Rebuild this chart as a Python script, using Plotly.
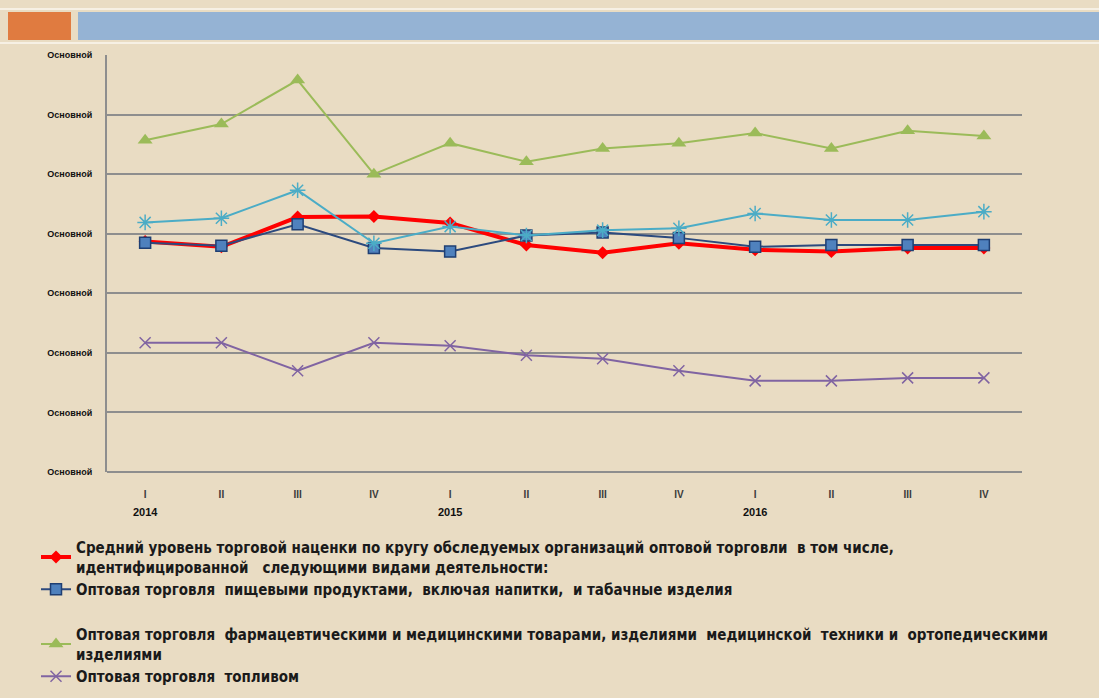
import plotly.graph_objects as go

quarters = ["I", "II", "III", "IV", "I", "II", "III", "IV", "I", "II", "III", "IV"]
year_labels = ["2014", "2015", "2016"]
year_pos = [0, 4, 8]
x_idx = list(range(12))

avg_markup = [3.87, 3.78, 4.28, 4.29, 4.18, 3.81, 3.68, 3.84, 3.73, 3.70, 3.76, 3.76]
food = [3.85, 3.80, 4.16, 3.76, 3.70, 3.97, 4.02, 3.93, 3.78, 3.81, 3.81, 3.81]
unnamed = [4.19, 4.26, 4.73, 3.84, 4.12, 3.97, 4.06, 4.09, 4.34, 4.23, 4.23, 4.37]
pharma = [5.57, 5.84, 6.58, 5.00, 5.52, 5.21, 5.43, 5.52, 5.69, 5.43, 5.73, 5.64]
fuel = [2.17, 2.17, 1.70, 2.17, 2.12, 1.96, 1.90, 1.70, 1.53, 1.53, 1.58, 1.58]

y_ticks = [0, 1, 2, 3, 4, 5, 6, 7]
y_tick_text = ["Основной"] * 8

names = [
    "Средний уровень торговой наценки по кругу обследуемых организаций оптовой торговли  в том числе,<br>идентифицированной   следующими видами деятельности:",
    "Оптовая торговля  пищевыми продуктами,  включая напитки,  и табачные изделия",
    "Оптовая торговля  фармацевтическими и медицинскими товарами, изделиями  медицинской  техники и  ортопедическими<br>изделиями",
    "Оптовая торговля  топливом",
]

BG = "#E9DCC3"
PX_L, PX_R, PX_T, PX_B = 107, 1022, 55, 472
W, H = 1099, 698


def px_x(px):
    return (px - PX_L) / (PX_R - PX_L)


def px_y(py):
    return (PX_B - py) / (PX_B - PX_T)


fig = go.Figure()
fig.add_trace(go.Scatter(x=x_idx, y=avg_markup, name=names[0], mode="lines+markers",
                         line=dict(color="#FF0000", width=4),
                         marker=dict(symbol="diamond", size=10, color="#FF0000")))
fig.add_trace(go.Scatter(x=x_idx, y=food, name=names[1], mode="lines+markers",
                         line=dict(color="#2C4A7E", width=2),
                         marker=dict(symbol="square", size=11, color="#4F81BD",
                                     line=dict(color="#1F3F73", width=1.5))))
fig.add_trace(go.Scatter(x=[None], y=[None], name=" ", mode="lines",
                         line=dict(color="rgba(0,0,0,0)", width=1), hoverinfo="skip"))
fig.add_trace(go.Scatter(x=x_idx, y=unnamed, name="", mode="lines+markers", showlegend=False,
                         line=dict(color="#4BACC6", width=2),
                         marker=dict(symbol="asterisk-open", size=13,
                                     line=dict(color="#4BACC6", width=1.5))))
fig.add_trace(go.Scatter(x=x_idx, y=pharma, name=names[2], mode="lines+markers",
                         line=dict(color="#9BBB59", width=2),
                         marker=dict(symbol="triangle-up", size=13, color="#9BBB59")))
fig.add_trace(go.Scatter(x=x_idx, y=fuel, name=names[3], mode="lines+markers",
                         line=dict(color="#8064A2", width=2),
                         marker=dict(symbol="x-thin-open", size=11,
                                     line=dict(color="#8064A2", width=1.5))))

fig.update_layout(
    width=W, height=H,
    paper_bgcolor=BG, plot_bgcolor=BG,
    margin=dict(l=PX_L, r=W - PX_R, t=PX_T, b=H - PX_B, autoexpand=False),
    font=dict(family="Liberation Sans, Arial, sans-serif", color="#222222"),
    xaxis=dict(range=[-0.5, 11.5], tickmode="array", tickvals=x_idx,
               ticktext=[f"<b>{q}</b>" for q in quarters],
               showgrid=False, zeroline=False, showline=False, ticks="",
               tickfont=dict(size=10, color="#3A3A3A"), ticklabelstandoff=15),
    yaxis=dict(range=[0, 7], tickmode="array", tickvals=y_ticks,
               ticktext=[f"<b>{t}</b>" for t in y_tick_text],
               showgrid=True, gridcolor="#8E8E8E", gridwidth=2,
               zeroline=False, showline=True, linecolor="#8E8E8E", linewidth=2,
               ticks="", tickfont=dict(size=9, color="#111111"), ticklabelstandoff=11),
    legend=dict(x=px_x(36), y=px_y(531), xanchor="left", yanchor="top",
                bgcolor="rgba(0,0,0,0)", tracegroupgap=0, itemwidth=30,
                font=dict(family="DejaVu Sans Condensed, Liberation Sans", size=15,
                          color="#1A1A1A", weight="bold")),
    showlegend=True,
)

for yl, xp in zip(year_labels, year_pos):
    fig.add_annotation(x=xp, xref="x", y=px_y(512), yref="paper", text=f"<b>{yl}</b>",
                       showarrow=False, xanchor="center", yanchor="middle",
                       font=dict(size=11, color="#111111"))

# bottom axis line
fig.add_shape(type="line", xref="paper", yref="paper", x0=0, x1=1, y0=0, y1=0,
              line=dict(color="#8E8E8E", width=2))

# header bars
fig.add_shape(type="rect", xref="paper", yref="paper", x0=px_x(8), x1=px_x(71),
              y0=px_y(40), y1=px_y(12), fillcolor="#E07B40", line=dict(width=0), layer="above")
fig.add_shape(type="rect", xref="paper", yref="paper", x0=px_x(78), x1=px_x(1099),
              y0=px_y(40), y1=px_y(12), fillcolor="#95B3D4", line=dict(width=0), layer="above")
fig.add_shape(type="line", xref="paper", yref="paper", x0=px_x(0), x1=px_x(1099),
              y0=px_y(9), y1=px_y(9), line=dict(color="#F6F0E4", width=2), layer="above")
fig.add_shape(type="line", xref="paper", yref="paper", x0=px_x(0), x1=px_x(1099),
              y0=px_y(43), y1=px_y(43), line=dict(color="#F6F0E4", width=2), layer="above")

fig.write_html("out.html", config={"displayModeBar": False},
               post_script="document.body.style.margin='0';document.body.style.background='#E9DCC3';document.body.style.overflow='hidden';")
